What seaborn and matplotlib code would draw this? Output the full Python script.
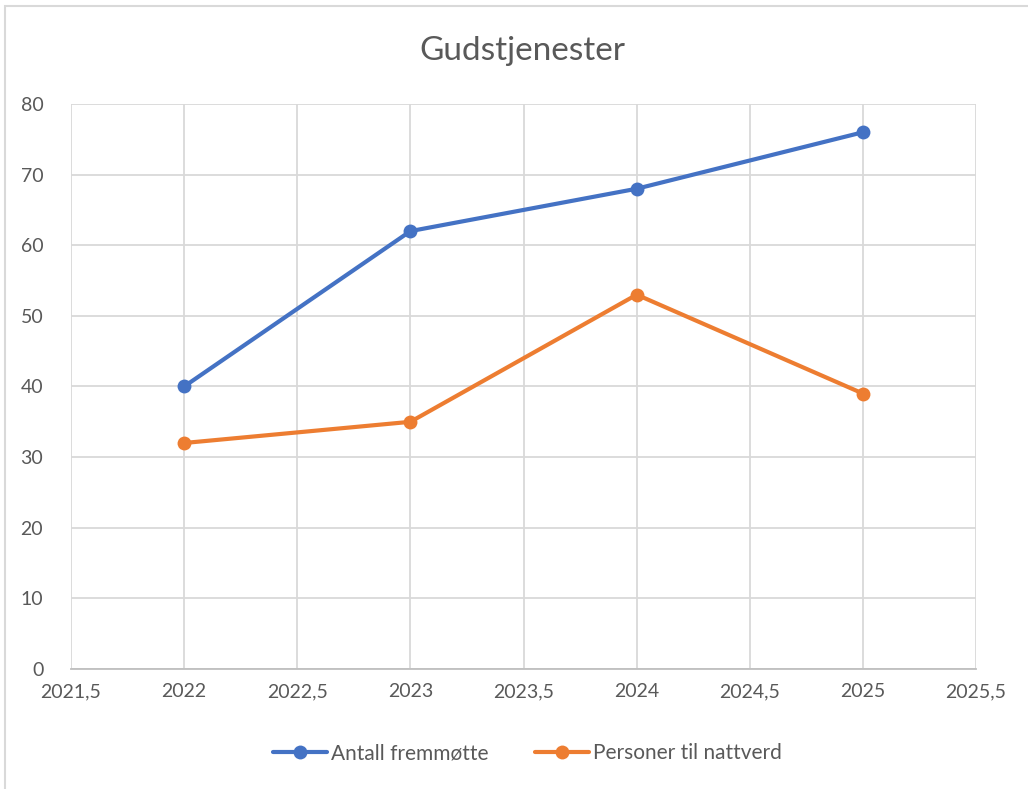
import pandas as pd
import seaborn as sns
import matplotlib.pyplot as plt
from matplotlib.ticker import FuncFormatter

years = [2022, 2023, 2024, 2025]
fremmotte = [40, 62, 68, 76]
nattverd = [32, 35, 53, 39]
series_names = ["Antall fremmøtte", "Personer til nattverd"]

df = pd.DataFrame({
    "År": years * 2,
    "Antall": fremmotte + nattverd,
    "Serie": [series_names[0]] * len(years) + [series_names[1]] * len(years),
})

sns.set_style("white")
plt.rcParams["font.family"] = ["Lato", "DejaVu Sans"]

fig = plt.figure(figsize=(10.28, 7.89), dpi=100)
ax = fig.add_axes([0.0691, 0.1521, 0.8804, 0.7161])

sns.lineplot(data=df, x="År", y="Antall", hue="Serie", marker="o",
             palette=["#4472C4", "#ED7D31"], linewidth=3, markersize=10,
             markeredgewidth=0, ax=ax)

ax.set_xlim(2021.5, 2025.5)
ax.set_ylim(0, 80)
ax.set_xticks([2021.5 + 0.5 * i for i in range(9)])
ax.set_yticks(range(0, 81, 10))
ax.xaxis.set_major_formatter(FuncFormatter(lambda v, p: f"{v:g}".replace(".", ",")))
ax.grid(True, color="#D9D9D9", linewidth=1.3)
ax.set_axisbelow(True)
for s in ["top", "right", "left"]:
    ax.spines[s].set_visible(False)
ax.spines["bottom"].set_color("#BFBFBF")
ax.spines["bottom"].set_linewidth(1.3)
ax.tick_params(axis="both", length=0, labelsize=14, colors="#595959", pad=10)
ax.tick_params(axis="y", pad=20)
ax.set_xlabel("")
ax.set_ylabel("")

fig.text(0.508, 0.935, "Gudstjenester", ha="center", va="center",
         fontsize=24, color="#595959")

handles, labels = ax.get_legend_handles_labels()
ax.legend(handles, labels, loc="center", bbox_to_anchor=(0.513, 0.045),
          bbox_transform=fig.transFigure, ncol=2, frameon=False,
          fontsize=15, labelcolor="#595959", handlelength=2.6,
          handletextpad=0.2, columnspacing=2.2)

# light frame around the chart area, like the Excel screenshot
border = plt.Rectangle((0.005, -0.01), 1.2, 1.003, transform=fig.transFigure,
                       fill=False, edgecolor="#D9D9D9", linewidth=1.5)
fig.add_artist(border)

fig.savefig("out.png", dpi=100)
